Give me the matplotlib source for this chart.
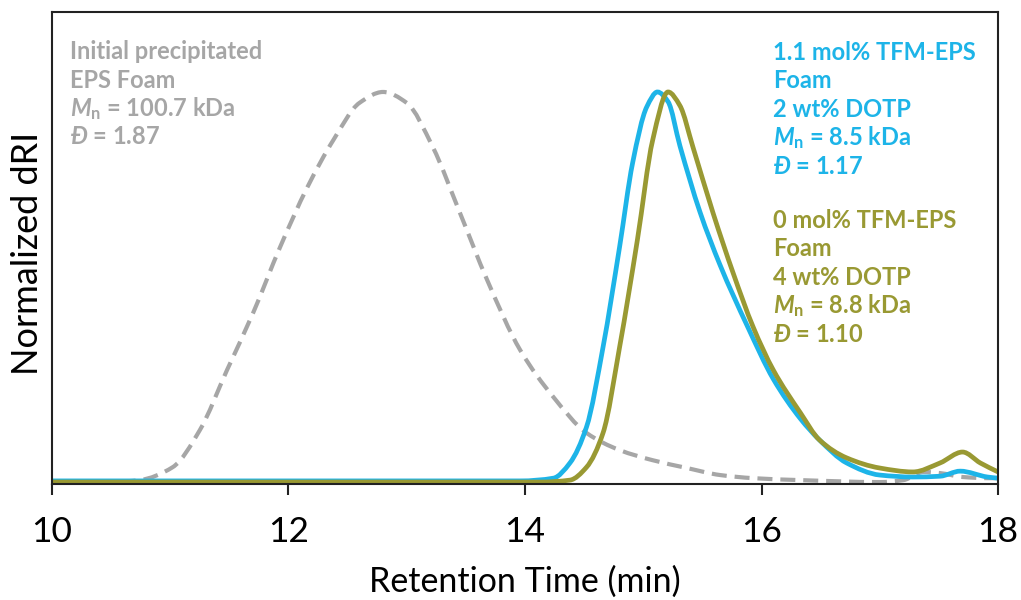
import matplotlib as mpl
import matplotlib.pyplot as plt
from matplotlib.path import Path
from matplotlib.patches import PathPatch

# retention time (min) and normalized dRI
gray_t = [10.0, 10.5, 10.74, 11.02, 11.25, 11.48, 11.70, 11.93, 12.16, 12.38,
          12.60, 12.80, 13.00, 13.22, 13.45, 13.68, 13.96, 14.24, 14.52, 14.80,
          15.08, 15.37, 15.65, 15.93, 16.33, 17.00, 17.20, 17.37, 17.51, 17.70,
          17.91, 18.0]
gray_ri = [0, 0, 0.005, 0.038, 0.133, 0.287, 0.433, 0.603, 0.756, 0.877,
           0.972, 1.0, 0.972, 0.859, 0.690, 0.518, 0.338, 0.218, 0.126, 0.082,
           0.056, 0.036, 0.018, 0.010, 0.005, 0.0, 0.005, 0.026, 0.023, 0.013,
           0.01, 0.01]

blue_t = [10.0, 13.96, 14.24, 14.38, 14.52, 14.66, 14.80, 14.91, 15.03, 15.12,
          15.21, 15.31, 15.48, 15.65, 15.88, 16.10, 16.33, 16.49, 16.72, 17.00,
          17.28, 17.51, 17.68, 17.91, 18.0]
blue_ri = [0.003, 0.003, 0.010, 0.049, 0.141, 0.346, 0.603, 0.818, 0.962, 1.0,
           0.975, 0.862, 0.692, 0.556, 0.400, 0.264, 0.162, 0.108, 0.049, 0.018,
           0.013, 0.015, 0.028, 0.013, 0.01]

olive_t = [10.0, 14.13, 14.38, 14.52, 14.66, 14.80, 14.95, 15.08, 15.21, 15.31,
           15.42, 15.59, 15.76, 15.93, 16.10, 16.33, 16.49, 16.72, 17.00, 17.28,
           17.51, 17.70, 17.85, 18.0]
olive_ri = [0.0, 0.0, 0.005, 0.038, 0.126, 0.346, 0.620, 0.877, 1.0, 0.965,
            0.859, 0.690, 0.536, 0.397, 0.287, 0.177, 0.108, 0.062, 0.036, 0.026,
            0.049, 0.077, 0.049, 0.026]

gray_lines = ['Initial precipitated', 'EPS Foam',
              r'$\mathit{M}_\mathregular{n}$ = 100.7 kDa', r'$\mathit{Đ}$ = 1.87']
blue_lines = ['1.1 mol% TFM-EPS', 'Foam', '2 wt% DOTP',
              r'$\mathit{M}_\mathregular{n}$ = 8.5 kDa', r'$\mathit{Đ}$ = 1.17']
olive_lines = ['0 mol% TFM-EPS', 'Foam', '4 wt% DOTP',
               r'$\mathit{M}_\mathregular{n}$ = 8.8 kDa', r'$\mathit{Đ}$ = 1.10']

GRAY = '#A6A6A6'
BLUE = '#1DB4E8'
OLIVE = '#999933'

mpl.rcParams['font.family'] = ['Lato', 'DejaVu Sans']
mpl.rcParams['mathtext.fontset'] = 'custom'
mpl.rcParams['mathtext.rm'] = 'Lato:bold'
mpl.rcParams['mathtext.it'] = 'Lato:bold:italic'


def smooth_path(xs, ys):
    """Bezier path through the points, monotone (Fritsch-Carlson) tangents"""
    n = len(xs)
    h = [xs[i + 1] - xs[i] for i in range(n - 1)]
    d = [(ys[i + 1] - ys[i]) / h[i] for i in range(n - 1)]
    m = [0.0] * n
    m[0], m[-1] = d[0], d[-1]
    for i in range(1, n - 1):
        if d[i - 1] * d[i] <= 0:
            m[i] = 0.0
        else:
            w1 = 2 * h[i] + h[i - 1]
            w2 = h[i] + 2 * h[i - 1]
            m[i] = (w1 + w2) / (w1 / d[i - 1] + w2 / d[i])
    verts = [(xs[0], ys[0])]
    codes = [Path.MOVETO]
    for i in range(n - 1):
        verts += [(xs[i] + h[i] / 3, ys[i] + m[i] * h[i] / 3),
                  (xs[i + 1] - h[i] / 3, ys[i + 1] - m[i + 1] * h[i] / 3),
                  (xs[i + 1], ys[i + 1])]
        codes += [Path.CURVE4] * 3
    return Path(verts, codes)


fig = plt.figure(figsize=(10.21, 6.0), dpi=100)
axes = fig.add_axes([0.0509, 0.1933, 0.9266, 0.7867])

axes.add_patch(PathPatch(smooth_path(gray_t, gray_ri), fill=False,
                         edgecolor=GRAY, lw=3, ls=(0, (3.6, 1.9))))
axes.add_patch(PathPatch(smooth_path(blue_t, blue_ri), fill=False,
                         edgecolor=BLUE, lw=3.4))
axes.add_patch(PathPatch(smooth_path(olive_t, olive_ri), fill=False,
                         edgecolor=OLIVE, lw=3.4))

axes.set_xlim(10, 18)
axes.set_ylim(-0.005, 1.205)
axes.set_xticks([10, 12, 14, 16, 18])
axes.set_yticks([])
axes.tick_params(axis='x', direction='out', length=8, width=1.5,
                 labelsize=25.5, pad=15, color='#222222')
for sp in axes.spines.values():
    sp.set_linewidth(1.5)
    sp.set_color('#222222')

axes.set_xlabel('Retention Time (min)', fontsize=24.5)
axes.xaxis.set_label_coords(0.5, -0.172)
axes.set_ylabel('Normalized dRI', fontsize=26)
axes.yaxis.set_label_coords(-0.008, 0.489)


def put_block(lines, x_px, y0_px, color):
    for i, s in enumerate(lines):
        fig.text(x_px / 1021, 1 - (y0_px + i * 28.5) / 600, s, color=color,
                 fontsize=17, fontweight='bold', va='baseline', ha='left')


put_block(gray_lines, 70, 59, GRAY)
put_block(blue_lines, 773, 60, BLUE)
put_block(olive_lines, 773, 228, OLIVE)

fig.savefig('out.png', dpi=100)
plt.close(fig)
